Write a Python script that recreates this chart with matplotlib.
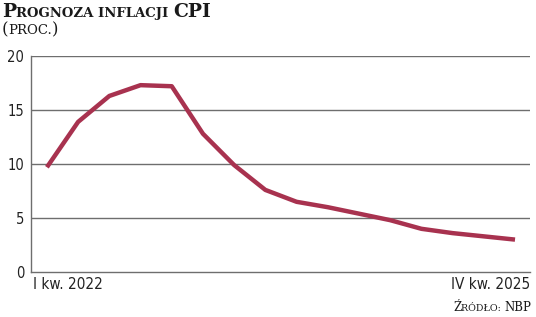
import matplotlib
matplotlib.use("Agg")
import matplotlib.pyplot as plt

# dane: prognoza inflacji CPI NBP (proc.), kwartalnie
quarters = ["I kw. 2022", "II kw. 2022", "III kw. 2022", "IV kw. 2022",
            "I kw. 2023", "II kw. 2023", "III kw. 2023", "IV kw. 2023",
            "I kw. 2024", "II kw. 2024", "III kw. 2024", "IV kw. 2024",
            "I kw. 2025", "II kw. 2025", "III kw. 2025", "IV kw. 2025"]
cpi = [9.7, 13.9, 16.3, 17.3, 17.2, 12.8, 9.9, 7.6,
       6.5, 6.0, 5.4, 4.8, 4.0, 3.6, 3.3, 3.0]
yticks = [0, 5, 10, 15, 20]

LINE = "#a8324f"
GRID = "#6e6e6e"
narrow = ["DejaVu Sans"]
serif = ["DejaVu Serif"]

fig = plt.figure(figsize=(5.36, 3.17), dpi=100)
ax = fig.add_axes([31 / 536, 1 - 272 / 317, 499 / 536, 216 / 317])

ax.plot(range(len(cpi)), cpi, color=LINE, lw=3.2, solid_joinstyle="round",
        solid_capstyle="butt", zorder=3)

ax.set_xlim(-0.51, len(cpi) - 1 + 0.48)
ax.set_ylim(0, 20)
ax.set_yticks(yticks)
ax.set_yticklabels([str(t) for t in yticks], family=narrow, fontsize=10.5,
                   fontstretch="condensed", color="#222222")
ax.tick_params(axis="y", length=0, pad=5)
ax.set_xticks([])
for t in yticks[1:]:
    ax.axhline(t, color=GRID, lw=1, zorder=1)
for s in ["top", "right"]:
    ax.spines[s].set_visible(False)
ax.spines["left"].set_color(GRID)
ax.spines["bottom"].set_color(GRID)
ax.spines["left"].set_linewidth(1)
ax.spines["bottom"].set_linewidth(1)

ax.text(0.004, -0.025, quarters[0], transform=ax.transAxes, ha="left", va="top",
        family=narrow, fontsize=11, fontstretch="condensed", color="#222222")
ax.text(1.0, -0.025, quarters[-1], transform=ax.transAxes, ha="right", va="top",
        family=narrow, fontsize=11, fontstretch="condensed", color="#222222")

# kapitaliki - skladanie tekstu z kawalkow
fig.canvas.draw()
rend = fig.canvas.get_renderer()


def smallcaps(x, y, pieces, weight, ha="left"):
    # pieces: lista (tekst, rozmiar)
    objs = []
    for txt, size in pieces:
        objs.append(fig.text(0, y, txt, family=serif, fontsize=size,
                             weight=weight, color="#1a1a1a",
                             transform=None, va="baseline"))
    widths = [o.get_window_extent(rend).width for o in objs]
    total = sum(widths)
    cx = x - total if ha == "right" else x
    for o, w in zip(objs, widths):
        o.set_x(cx)
        cx += w


H = 317
smallcaps(2, H - 17, [("P", 13.5), ("ROGNOZA INFLACJI ", 9.5), ("CPI", 13.5)], "bold")
smallcaps(2, H - 34, [("(", 12), ("PROC.", 9.5), (")", 12)], "normal")
smallcaps(531, H - 311, [("Ź", 8.5), ("RÓDŁO: ", 6.8), ("NBP", 8.5)], "normal",
          ha="right")

fig.savefig("out.png", dpi=100)
